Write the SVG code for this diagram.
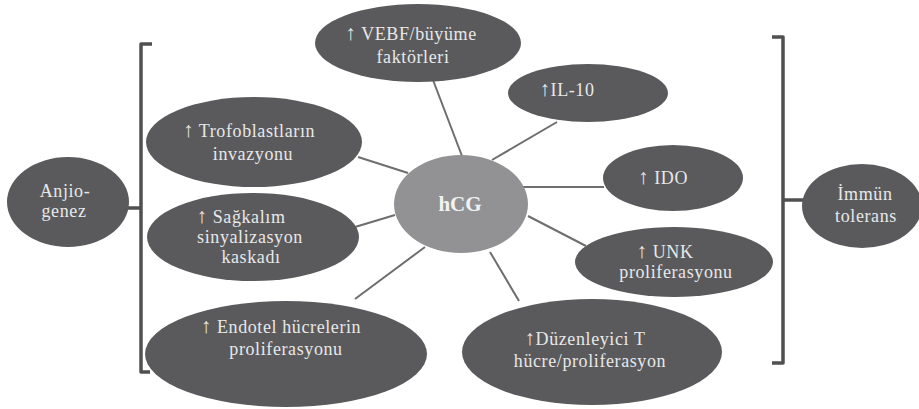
<svg xmlns="http://www.w3.org/2000/svg" width="919" height="409" viewBox="0 0 919 409">
<style>
.n{fill:#5a5a5c}
.c{fill:#929294}
.t{fill:#e8e8e8;font-family:"Liberation Serif","Times New Roman",serif;font-size:18px;letter-spacing:0.6px;text-anchor:middle}
.a{font-size:21px;font-weight:bold}
.h{fill:#f2f2f2;font-family:"Liberation Serif","Times New Roman",serif;font-size:21px;font-weight:bold;text-anchor:middle}
.l{stroke:#6e6e6e;stroke-width:2;fill:none}
.b{stroke:#505050;stroke-width:3.5;fill:none;stroke-linejoin:round}
</style>
<rect width="919" height="409" fill="#ffffff"/>
<g id="connectors">
<line class="l" x1="433" y1="80" x2="462" y2="156"/>
<line class="l" x1="557" y1="122" x2="492" y2="160"/>
<line class="l" x1="358" y1="157" x2="408" y2="173"/>
<line class="l" x1="523" y1="187" x2="604" y2="187"/>
<line class="l" x1="355" y1="227" x2="395" y2="215"/>
<line class="l" x1="528" y1="216" x2="586" y2="246"/>
<line class="l" x1="425" y1="247" x2="355" y2="299"/>
<line class="l" x1="490" y1="252" x2="519" y2="301"/>
<path class="b" d="M152 44 H141 V372 H150"/>
<line class="b" x1="127" y1="208" x2="141" y2="208"/>
<path class="b" d="M772 37 H783 V363 H772"/>
<line class="b" x1="783" y1="200" x2="803" y2="200"/>
</g>
<g id="hcg">
<ellipse class="c" cx="461" cy="204" rx="67" ry="49"/>
<text class="h" x="460" y="211">hCG</text>
</g>
<g id="vebf">
<ellipse class="n" cx="418" cy="43" rx="103" ry="39"/>
<text class="t" x="411" y="40"><tspan class="a">↑</tspan> VEBF/büyüme</text>
<text class="t" x="413" y="63">faktörleri</text>
</g>
<g id="il10">
<ellipse class="n" cx="588" cy="93" rx="80" ry="29"/>
<text class="t" x="567" y="96"><tspan class="a">↑</tspan>IL-10</text>
</g>
<g id="trofoblast">
<ellipse class="n" cx="254" cy="142" rx="108" ry="45"/>
<text class="t" x="249" y="137"><tspan class="a">↑</tspan> Trofoblastların</text>
<text class="t" x="253" y="160">invazyonu</text>
</g>
<g id="ido">
<ellipse class="n" cx="673" cy="178" rx="70" ry="33"/>
<text class="t" x="663" y="184"><tspan class="a">↑</tspan> IDO</text>
</g>
<g id="anjiogenez">
<ellipse class="n" cx="68" cy="202" rx="61" ry="45"/>
<text class="t" x="65" y="197">Anjio-</text>
<text class="t" x="64" y="217">genez</text>
</g>
<g id="sagkalim">
<ellipse class="n" cx="253" cy="237" rx="106" ry="44"/>
<text class="t" x="241" y="223"><tspan class="a">↑</tspan> Sağkalım</text>
<text class="t" x="250" y="243">sinyalizasyon</text>
<text class="t" x="251" y="263">kaskadı</text>
</g>
<g id="immun">
<ellipse class="n" cx="862" cy="206" rx="60" ry="42"/>
<text class="t" x="865" y="200">İmmün</text>
<text class="t" x="866" y="222">tolerans</text>
</g>
<g id="unk">
<ellipse class="n" cx="674" cy="262" rx="99" ry="35"/>
<text class="t" x="665" y="258"><tspan class="a">↑</tspan> UNK</text>
<text class="t" x="676" y="278">proliferasyonu</text>
</g>
<g id="endotel">
<ellipse class="n" cx="286" cy="354" rx="141" ry="53"/>
<text class="t" x="281" y="333"><tspan class="a">↑</tspan> Endotel hücrelerin</text>
<text class="t" x="286" y="355">proliferasyonu</text>
</g>
<g id="duzenleyici">
<ellipse class="n" cx="592" cy="352" rx="130" ry="53"/>
<text class="t" x="585" y="345"><tspan class="a">↑</tspan>Düzenleyici T</text>
<text class="t" x="590" y="367">hücre/proliferasyon</text>
</g>
</svg>
